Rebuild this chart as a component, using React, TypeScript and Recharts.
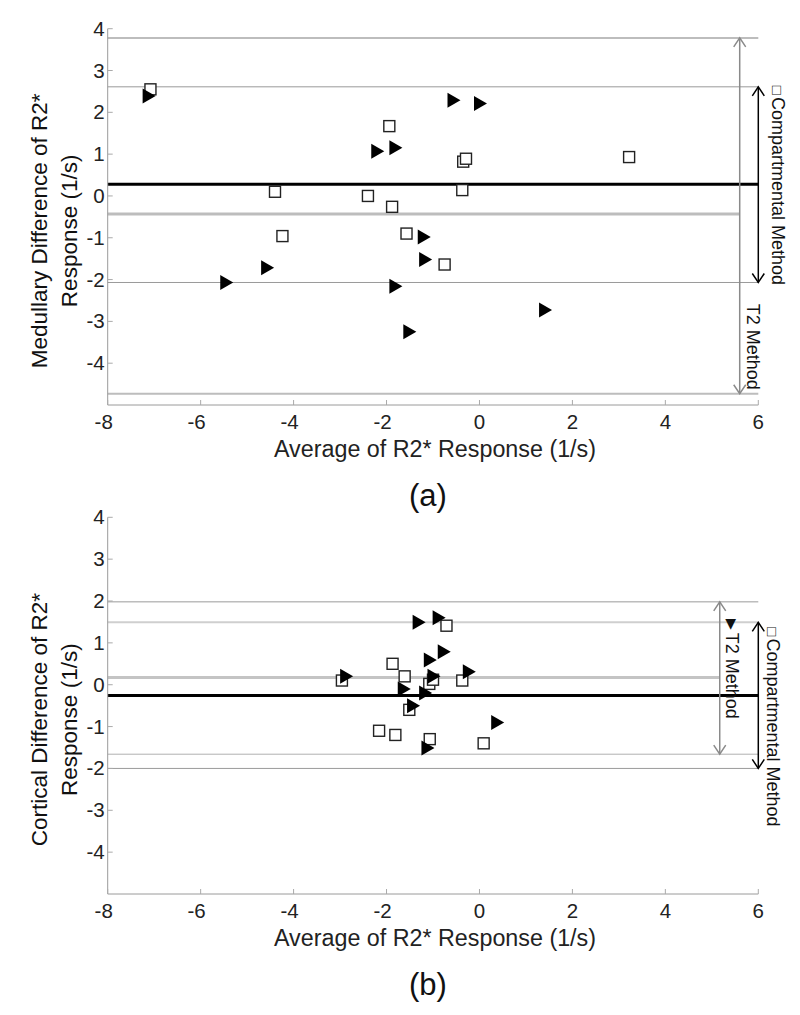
import React from 'react';
import { ScatterChart, Scatter, XAxis, YAxis, ReferenceLine } from 'recharts';

const FONT = "'Liberation Sans', Arial, Helvetica, sans-serif";

const xTicks = [-8, -6, -4, -2, 0, 2, 4, 6];
const yTicks = [-4, -3, -2, -1, 0, 1, 2, 3, 4];
const xDomain: [number, number] = [-8, 6];
const yDomain: [number, number] = [-5, 4];

// (a) Medullary
const medT2 = [
  { x: -7.13, y: 2.39 }, { x: -0.57, y: 2.29 }, { x: 0.0, y: 2.21 }, { x: -2.21, y: 1.07 },
  { x: -1.82, y: 1.15 }, { x: -1.21, y: -0.98 }, { x: -1.18, y: -1.52 }, { x: -4.58, y: -1.72 },
  { x: -5.46, y: -2.07 }, { x: -1.82, y: -2.16 }, { x: -1.52, y: -3.25 }, { x: 1.4, y: -2.73 },
];
const medComp = [
  { x: -7.08, y: 2.55 }, { x: -1.94, y: 1.67 }, { x: -0.35, y: 0.82 }, { x: -0.29, y: 0.89 },
  { x: 3.22, y: 0.93 }, { x: -4.4, y: 0.1 }, { x: -2.4, y: 0.0 }, { x: -1.88, y: -0.26 },
  { x: -0.37, y: 0.14 }, { x: -4.24, y: -0.96 }, { x: -1.57, y: -0.9 }, { x: -0.75, y: -1.64 },
];

// (b) Cortical
const corT2 = [
  { x: -1.32, y: 1.49 }, { x: -0.89, y: 1.6 }, { x: -0.78, y: 0.79 }, { x: -1.08, y: 0.59 },
  { x: -2.88, y: 0.2 }, { x: -1.0, y: 0.2 }, { x: -0.24, y: 0.31 }, { x: -1.64, y: -0.1 },
  { x: -1.18, y: -0.2 }, { x: -1.44, y: -0.5 }, { x: 0.37, y: -0.9 }, { x: -1.13, y: -1.51 },
];
const corComp = [
  { x: -0.71, y: 1.41 }, { x: -1.87, y: 0.5 }, { x: -1.61, y: 0.2 }, { x: -2.96, y: 0.1 },
  { x: -1.08, y: 0.02 }, { x: -1.0, y: 0.12 }, { x: -0.37, y: 0.1 }, { x: -1.51, y: -0.6 },
  { x: -2.16, y: -1.1 }, { x: -1.81, y: -1.2 }, { x: -1.07, y: -1.3 }, { x: 0.09, y: -1.4 },
];

// [upper limit, mean, lower limit]
const medT2Limits = [3.78, -0.43, -4.73];
const medCompLimits = [2.61, 0.28, -2.07];
const corT2Limits = [1.98, 0.17, -1.66];
const corCompLimits = [1.49, -0.26, -2.0];
const medT2ArrowX = 5.6;
const corT2ArrowX = 5.17;
const compArrowX = 6;

const xTitle = 'Average of R2* Response (1/s)';
const medYTitle = ['Medullary Difference of R2*', 'Response (1/s)'];
const corYTitle = ['Cortical Difference of R2*', 'Response (1/s)'];
const t2Name = 'T2 Method';
const compName = 'Compartmental Method';

const Square = (p: any) => {
  const { cx, cy } = p;
  if (cx == null || cy == null) return <g />;
  return <rect x={cx - 5.5} y={cy - 5.5} width={11} height={11} fill="#fff" stroke="#222" strokeWidth={1.4} />;
};

const Triangle = (p: any) => {
  const { cx, cy } = p;
  if (cx == null || cy == null) return <g />;
  return <path d={`M${cx - 5.5},${cy - 7.5} L${cx + 7.5},${cy} L${cx - 5.5},${cy + 7.5} Z`} fill="#000" />;
};

const XTick = (p: any) => {
  const { x, y, payload } = p;
  const v = payload.value;
  return (
    <g>
      <line x1={x} x2={x} y1={y} y2={y - 5} stroke="#aaa" />
      <text x={x + (v < 0 ? -4 : 0)} y={y + 24} textAnchor="middle" fontSize={20.5} fill="#222" fontFamily={FONT}>
        {v}
      </text>
    </g>
  );
};

const YTick = (p: any) => {
  const { x, y, payload } = p;
  return (
    <g>
      <line x1={x} x2={x + 5} y1={y} y2={y} stroke="#aaa" />
      <text x={x - 3} y={y + 7} textAnchor="end" fontSize={20.5} fill="#222" fontFamily={FONT}>
        {payload.value}
      </text>
    </g>
  );
};

type ArrowOpts = {
  color: string;
  label: React.ReactNode;
  dx: number;
  anchor: 'start' | 'end';
  offset: number;
};

const makeArrow = (o: ArrowOpts) => (p: any) => {
  const { x1, y1, y2 } = p;
  const top = Math.min(y1, y2);
  const bot = Math.max(y1, y2);
  const x = x1;
  const h = 9;
  const w = 6;
  const tx = x + o.dx;
  const ty = o.anchor === 'start' ? top + o.offset : bot - o.offset;
  return (
    <g>
      <line x1={x} x2={x} y1={top} y2={bot} stroke={o.color} strokeWidth={1.5} />
      <polyline points={`${x - w},${top + h} ${x},${top} ${x + w},${top + h}`} fill="none" stroke={o.color} strokeWidth={1.5} />
      <polyline points={`${x - w},${bot - h} ${x},${bot} ${x + w},${bot - h}`} fill="none" stroke={o.color} strokeWidth={1.5} />
      <text
        x={tx}
        y={ty}
        textAnchor={o.anchor}
        dominantBaseline="central"
        fontSize={18}
        fill="#111"
        fontFamily={FONT}
        transform={`rotate(90 ${tx} ${ty})`}
      >
        {o.label}
      </text>
    </g>
  );
};

type LineStyle = { stroke: string; width: number };

type PanelProps = {
  top: number;
  height: number;
  marginTop: number;
  marginBottom: number;
  t2: { x: number; y: number }[];
  comp: { x: number; y: number }[];
  t2Lim: number[];
  compLim: number[];
  t2ArrowX: number;
  yTitle: string[];
  letter: string;
  t2Styles: LineStyle[];
  compStyles: LineStyle[];
  t2Arrow: ArrowOpts;
  compArrow: ArrowOpts;
};

const Panel = (pp: PanelProps) => {
  const hLine = (y: number, xEnd: number, s: LineStyle, key: string) => (
    <ReferenceLine
      key={key}
      segment={[{ x: xDomain[0], y }, { x: xEnd, y }]}
      stroke={s.stroke}
      strokeWidth={s.width}
    />
  );
  return (
    <div style={{ position: 'absolute', left: 0, top: pp.top }}>
      <ScatterChart
        width={800}
        height={pp.height}
        margin={{ top: pp.marginTop, right: 41.7, left: 7.7, bottom: pp.marginBottom }}
      >
        <XAxis
          type="number"
          dataKey="x"
          domain={xDomain}
          ticks={xTicks}
          height={40}
          tickSize={0}
          tickMargin={0}
          tickLine={false}
          axisLine={{ stroke: '#9a9a9a' }}
          tick={<XTick />}
          interval={0}
          label={(lp: any) => {
            const vb = lp.viewBox || {};
            const cx = vb.x + vb.width / 2;
            return (
              <g>
                <text x={cx + 2} y={vb.y + 52} textAnchor="middle" fontSize={23} fill="#222" fontFamily={FONT} textLength={322} lengthAdjust="spacingAndGlyphs">
                  {xTitle}
                </text>
                <text x={cx - 5} y={vb.y + 101} textAnchor="middle" fontSize={31} fill="#111" fontFamily={FONT}>
                  {pp.letter}
                </text>
              </g>
            );
          }}
        />
        <YAxis
          type="number"
          dataKey="y"
          domain={yDomain}
          ticks={yTicks}
          width={100}
          tickSize={0}
          tickMargin={0}
          tickLine={false}
          axisLine={{ stroke: '#9a9a9a' }}
          tick={<YTick />}
          interval={0}
          label={(lp: any) => {
            const vb = lp.viewBox || {};
            const cy = vb.y + vb.height / 2 + 14;
            const x1 = 40;
            const x2 = 70;
            return (
              <g>
                <text x={x1} y={cy} textAnchor="middle" dominantBaseline="central" fontSize={22.5} fill="#111" fontFamily={FONT} transform={`rotate(-90 ${x1} ${cy})`}>
                  {pp.yTitle[0]}
                </text>
                <text x={x2} y={cy} textAnchor="middle" dominantBaseline="central" fontSize={22.5} fill="#111" fontFamily={FONT} transform={`rotate(-90 ${x2} ${cy})`}>
                  {pp.yTitle[1]}
                </text>
              </g>
            );
          }}
        />
        {hLine(pp.t2Lim[0], xDomain[1], pp.t2Styles[0], 't2u')}
        {hLine(pp.compLim[0], xDomain[1], pp.compStyles[0], 'cu')}
        {hLine(pp.t2Lim[1], pp.t2ArrowX, pp.t2Styles[1], 't2m')}
        {hLine(pp.compLim[2], xDomain[1], pp.compStyles[2], 'cl')}
        {hLine(pp.t2Lim[2], xDomain[1], pp.t2Styles[2], 't2l')}
        {hLine(pp.compLim[1], xDomain[1], pp.compStyles[1], 'cm')}
        <ReferenceLine
          segment={[{ x: pp.t2ArrowX, y: pp.t2Lim[0] }, { x: pp.t2ArrowX, y: pp.t2Lim[2] }]}
          shape={makeArrow(pp.t2Arrow)}
        />
        <ReferenceLine
          segment={[{ x: compArrowX, y: pp.compLim[0] }, { x: compArrowX, y: pp.compLim[2] }]}
          shape={makeArrow(pp.compArrow)}
        />
        <Scatter data={pp.comp} shape={<Square />} isAnimationActive={false} />
        <Scatter data={pp.t2} shape={<Triangle />} isAnimationActive={false} />
      </ScatterChart>
    </div>
  );
};

const compLabel = (
  <>
    <tspan fontSize={15}>□</tspan>
    <tspan dx={2}>{compName}</tspan>
  </>
);

export default function App() {
  return (
    <div style={{ position: 'absolute', left: 0, top: 0, width: 800, height: 1015, background: '#fff', fontFamily: FONT }}>
      <Panel
        top={0}
        height={520}
        marginTop={28.7}
        marginBottom={75}
        t2={medT2}
        comp={medComp}
        t2Lim={medT2Limits}
        compLim={medCompLimits}
        t2ArrowX={medT2ArrowX}
        yTitle={medYTitle}
        letter="(a)"
        t2Styles={[
          { stroke: '#bdbdbd', width: 2 },
          { stroke: '#bdbdbd', width: 3 },
          { stroke: '#bdbdbd', width: 2 },
        ]}
        compStyles={[
          { stroke: '#9a9a9a', width: 1 },
          { stroke: '#000', width: 3 },
          { stroke: '#9a9a9a', width: 1 },
        ]}
        t2Arrow={{ color: '#8a8a8a', label: t2Name, dx: 13.6, anchor: 'end', offset: 4 }}
        compArrow={{ color: '#000', label: compLabel, dx: 20, anchor: 'start', offset: -1 }}
      />
      <Panel
        top={505}
        height={510}
        marginTop={12.3}
        marginBottom={81}
        t2={corT2}
        comp={corComp}
        t2Lim={corT2Limits}
        compLim={corCompLimits}
        t2ArrowX={corT2ArrowX}
        yTitle={corYTitle}
        letter="(b)"
        t2Styles={[
          { stroke: '#9a9a9a', width: 1 },
          { stroke: '#c4c4c4', width: 3 },
          { stroke: '#b0b0b0', width: 1 },
        ]}
        compStyles={[
          { stroke: '#cfcfcf', width: 2 },
          { stroke: '#000', width: 3 },
          { stroke: '#9a9a9a', width: 1 },
        ]}
        t2Arrow={{
          color: '#8a8a8a',
          label: (
            <>
              <tspan fontSize={14}>▶</tspan>
              <tspan dx={3}>{t2Name}</tspan>
            </>
          ),
          dx: 12,
          anchor: 'start',
          offset: 17,
        }}
        compArrow={{ color: '#000', label: compLabel, dx: 15, anchor: 'start', offset: 5 }}
      />
    </div>
  );
}
